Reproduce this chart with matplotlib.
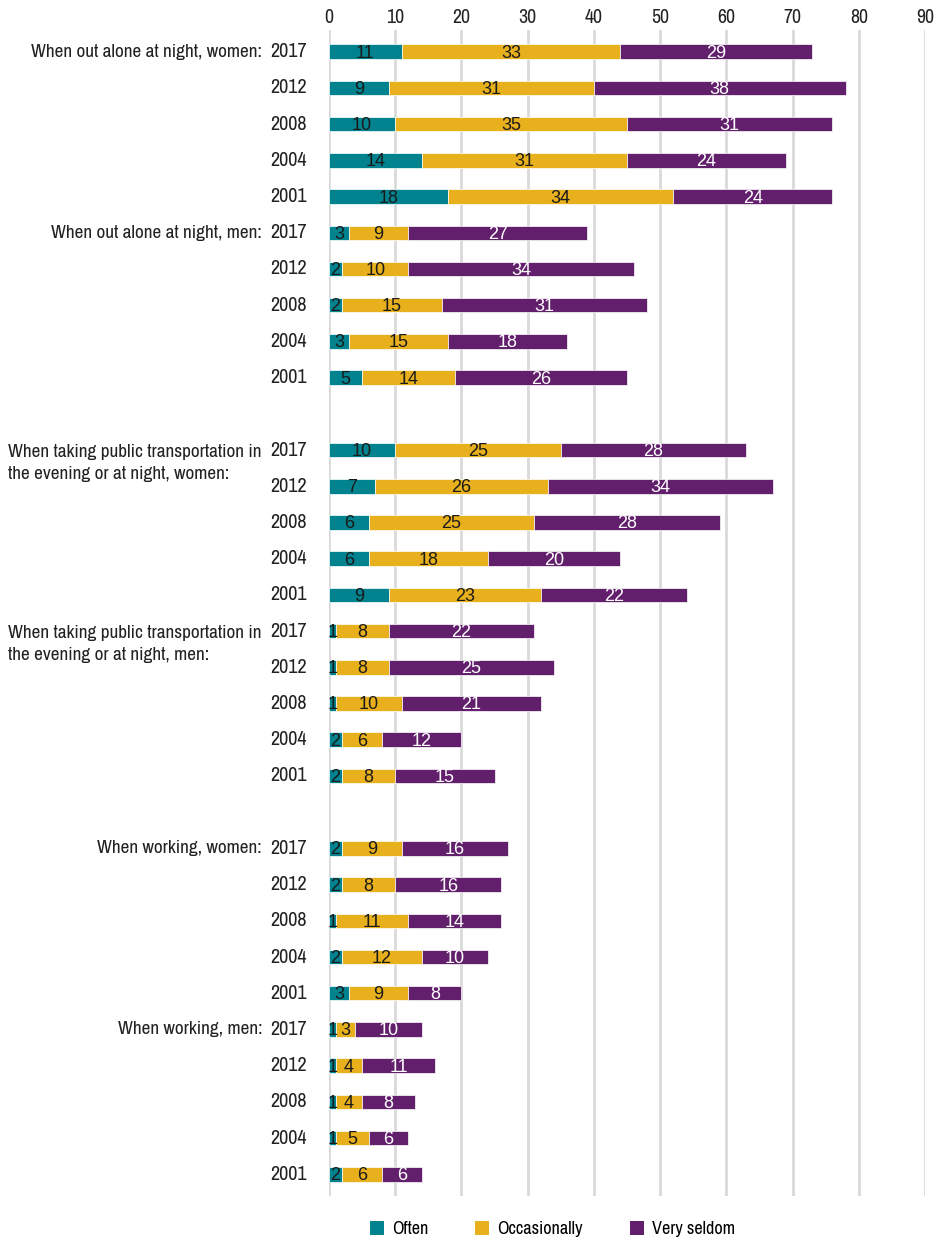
import matplotlib.pyplot as plt
import matplotlib.transforms as mtransforms
from matplotlib import font_manager as fm
from matplotlib.patches import Patch
import numpy as np

years = ["2017", "2012", "2008", "2004", "2001"]

groups = [
    "When out alone at night, women:",
    "When out alone at night, men:",
    "When taking public transportation in\nthe evening or at night, women:",
    "When taking public transportation in\nthe evening or at night, men:",
    "When working, women:",
    "When working, men:",
]

# values per group, in the order of years above
often = [
    [11, 9, 10, 14, 18],
    [3, 2, 2, 3, 5],
    [10, 7, 6, 6, 9],
    [1, 1, 1, 2, 2],
    [2, 2, 1, 2, 3],
    [1, 1, 1, 1, 2],
]
occasionally = [
    [33, 31, 35, 31, 34],
    [9, 10, 15, 15, 14],
    [25, 26, 25, 18, 23],
    [8, 8, 10, 6, 8],
    [9, 8, 11, 12, 9],
    [3, 4, 4, 5, 6],
]
very_seldom = [
    [29, 38, 31, 24, 24],
    [27, 34, 31, 18, 26],
    [28, 34, 28, 20, 22],
    [22, 25, 21, 12, 15],
    [16, 16, 14, 10, 8],
    [10, 11, 8, 6, 6],
]

series_names = ["Often", "Occasionally", "Very seldom"]
colors = ["#00838f", "#e8b01c", "#621f6c"]
text_colors = ["#1a1a1a", "#1a1a1a", "white"]

# pick a narrow face for the labels (non-DejaVu first, condensed before semi/extra)
rank = {"condensed": 0, "semi-condensed": 1, "extra-condensed": 2, "ultra-condensed": 3}
best = None
for f in fm.fontManager.ttflist:
    if f.style != "normal" or f.weight not in (400, "normal", "regular"):
        continue
    name = f.name.lower()
    if "narrow" in name:
        key = (0, -1)
    elif f.stretch in rank or "condensed" in name:
        key = (1 if "dejavu" in name else 0, rank.get(f.stretch, 0))
    else:
        continue
    if best is None or key < best[0]:
        best = (key, f)

if best is not None:
    plt.rcParams['font.family'] = [best[1].name, "DejaVu Sans"]
    plt.rcParams['font.stretch'] = best[1].stretch
else:
    plt.rcParams['font.family'] = ["Liberation Sans", "DejaVu Sans"]

fig = plt.figure(figsize=(9.41, 12.40), dpi=100)
renderer = fig.canvas.get_renderer()


def fit_size(s, width_px, base=14.5):
    t = fig.text(0, 0, s, fontsize=base)
    w = t.get_window_extent(renderer).width
    t.remove()
    return min(base, base * width_px / w)


cat_size = min(fit_size("When out alone at night, women:", 232),
               fit_size("When taking public transportation in", 254))
year_size = fit_size("2017", 38)
tick_size = fit_size("80", 18)
leg_size = fit_size("Occasionally", 85)

ax = fig.add_axes([329 / 941, 1 - 1196 / 1240, 596 / 941, 1166 / 1240])

# row positions: two groups per block, one empty slot between blocks
rows = []
pos = 0
for g in range(len(groups)):
    rows.append(np.arange(pos, pos + len(years)))
    pos += len(years)
    if g % 2 == 1 and g < len(groups) - 1:
        pos += 1
n_slots = pos

label_tr = mtransforms.blended_transform_factory(fig.transFigure, ax.transData)

for g in range(len(groups)):
    y = rows[g]
    left = np.zeros(len(years))
    for s, vals in enumerate([often[g], occasionally[g], very_seldom[g]]):
        vals = np.array(vals, dtype=float)
        ax.barh(y, vals, left=left, height=0.4, color=colors[s],
                edgecolor="#ffffff", linewidth=0.5, zorder=3)
        for yy, l, v in zip(y, left, vals):
            ax.text(l + v / 2, yy + 0.04, f"{int(v)}", ha="center", va="center",
                    fontsize=13, family="Liberation Sans", stretch="normal",
                    color=text_colors[s], zorder=4)
        left += vals

    for yy, yr in zip(y, years):
        fig.text(307 / 941, yy, yr, transform=label_tr, ha="right", va="center",
                 fontsize=year_size, color="#222222")

    if "\n" in groups[g]:
        fig.text(8 / 941, y[0] + 0.36, groups[g], transform=label_tr, ha="left",
                 va="center", fontsize=cat_size, color="#222222", linespacing=1.45)
    else:
        fig.text(262 / 941, y[0], groups[g], transform=label_tr, ha="right",
                 va="center", fontsize=cat_size, color="#222222")

ax.set_xlim(0, 90)
ax.set_ylim(n_slots - 1 + 0.6, -0.6)
ax.set_xticks(np.arange(0, 91, 10))
ax.xaxis.tick_top()
ax.tick_params(axis="x", length=0, labelsize=tick_size, pad=2, labelcolor="#222222")
ax.set_yticks([])
ax.grid(axis="x", color="#d9d9d9", linewidth=2, zorder=0)
for sp in ax.spines.values():
    sp.set_visible(False)

# legend spacing in font-size units, from pixel distances
fs_px = leg_size * 100 / 72
handles = [Patch(facecolor=c, edgecolor="none") for c in colors]
fig.legend(handles, series_names, loc="center", bbox_to_anchor=(0.587, 1 - 1229 / 1240),
           ncol=3, frameon=False, fontsize=leg_size, handlelength=14 / fs_px,
           handleheight=14 / fs_px, handletextpad=8 / fs_px, columnspacing=47 / fs_px)

fig.savefig("out.png", dpi=100)
